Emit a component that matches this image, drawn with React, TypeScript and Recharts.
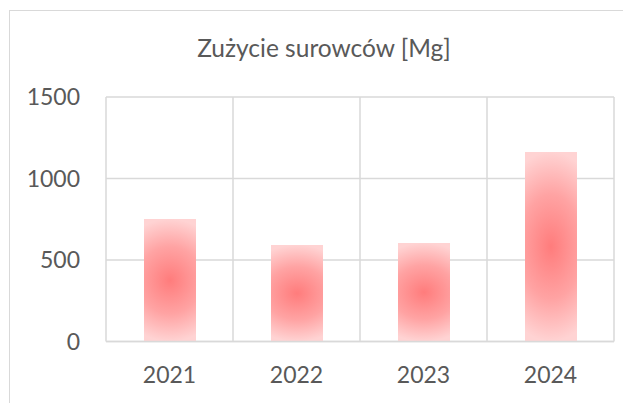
import React from "react";
import { BarChart, Bar, XAxis, YAxis, CartesianGrid } from "recharts";

const years = ["2021", "2022", "2023", "2024"];
const consumption = [751, 592, 604, 1163];
const yTicks = [0, 500, 1000, 1500];
const title = "Zużycie surowców [Mg]";

const data = years.map((year, i) => ({ year, value: consumption[i] }));

const FONT = "Lato, 'Open Sans', sans-serif";
const TEXT = "#595959";
const GRID = "#D9D9D9";

export default function App() {
  return (
    <div style={{ position: "relative", width: 623, height: 395, overflow: "hidden", background: "#fff" }}>
      <div
        style={{
          position: "absolute",
          left: 1,
          top: 2,
          width: 700,
          height: 500,
          borderLeft: `1.5px solid ${GRID}`,
          borderTop: `1.5px solid ${GRID}`,
          boxSizing: "border-box",
        }}
      />
      <div
        style={{
          position: "absolute",
          left: 116,
          width: 400,
          top: 24.5,
          textAlign: "center",
          fontFamily: FONT,
          fontSize: 24.5,
          lineHeight: 1.2,
          color: TEXT,
          whiteSpace: "nowrap",
        }}
      >
        {title}
      </div>
      <div style={{ position: "absolute", left: 0, top: 0 }}>
        <BarChart
          width={623}
          height={395}
          data={data}
          margin={{ top: 89, right: 17, bottom: 0, left: 0 }}
        >
          <defs>
            <radialGradient
              id="barGrad"
              cx={0}
              cy={0}
              r={1}
              gradientUnits="objectBoundingBox"
              gradientTransform="translate(0.5 0.5) scale(1.1 0.5)"
            >
              <stop offset="0%" stopColor="#FF7C7C" />
              <stop offset="55%" stopColor="#FFA3A3" />
              <stop offset="100%" stopColor="#FFD3D3" />
            </radialGradient>
          </defs>
          <CartesianGrid
            stroke={GRID}
            strokeWidth={1.5}
            verticalCoordinatesGenerator={({ offset }: any) =>
              years.map((_, i) => offset.left + (i * offset.width) / years.length).concat([offset.left + offset.width])
            }
          />
          <XAxis
            dataKey="year"
            axisLine={{ stroke: GRID, strokeWidth: 1.5 }}
            tickLine={false}
            tickSize={0}
            tickMargin={25}
            height={61.5}
            tick={{ fill: TEXT, fontSize: 23, fontFamily: FONT }}
          />
          <YAxis
            domain={[0, 1500]}
            ticks={yTicks}
            axisLine={false}
            tickLine={false}
            tickSize={0}
            tickMargin={26}
            width={98}
            tick={{ fill: TEXT, fontSize: 23, fontFamily: FONT }}
          />
          <Bar dataKey="value" fill="url(#barGrad)" barSize={52} isAnimationActive={false} />
        </BarChart>
      </div>
    </div>
  );
}
